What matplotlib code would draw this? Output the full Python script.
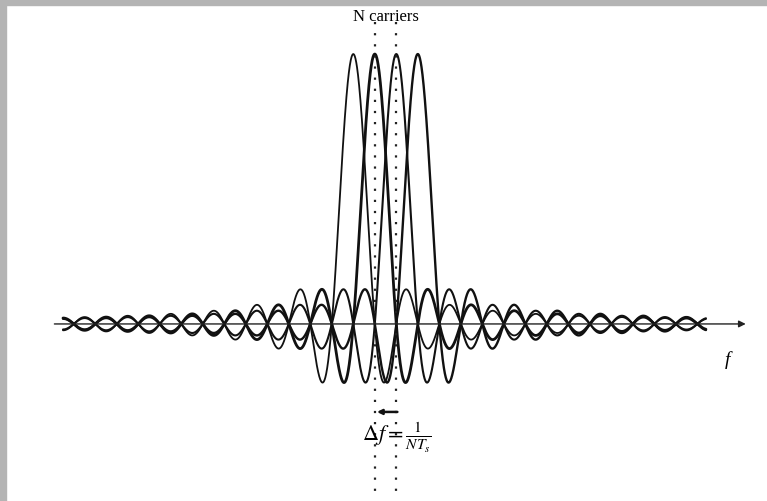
import numpy as np
import matplotlib.pyplot as plt
from matplotlib.patches import Rectangle

# subcarrier centres in units of the spacing Δf, and their peak heights
carrier_offsets = [-1.5, -0.5, 0.5, 1.5]
carrier_peaks = [1.0, 1.0, 1.0, 1.0]
# frequency span over which the spectra are drawn
f_start, f_stop = -15.0, 14.9

line_widths = [1.3, 2.0, 1.5, 1.7]

fig = plt.figure(figsize=(7.67, 5.02), dpi=100)
ax = fig.add_axes([0, 0, 1, 1])
ax.set_xlim(-17.93, 17.74)
ax.set_ylim(-0.656, 1.204)
ax.axis("off")

f = np.linspace(f_start, f_stop, 4000)
for fc, a, lw in zip(carrier_offsets, carrier_peaks, line_widths):
    ax.plot(f, a * np.sinc(f - fc), color="#111111", lw=lw, solid_capstyle="round")

# frequency axis with arrow
ax.annotate("", xy=(16.75, 0), xytext=(-15.4, 0),
            arrowprops=dict(arrowstyle="-|>", color="#222222", lw=1.0,
                            mutation_scale=10, shrinkA=0, shrinkB=0))
ax.text(15.9, -0.13, "f", fontsize=14, style="italic",
        family="Liberation Serif", ha="center", va="center")

# dotted markers on two neighbouring carriers
for fc in carrier_offsets[1:3]:
    ax.plot([fc, fc], [1.12, -0.63], color="#222222", lw=1.6,
            linestyle=(0, (1, 4)))

ax.text(0.0, 1.14, "N carriers", fontsize=12, family="Liberation Serif",
        ha="center", va="center")

ax.annotate("", xy=(-0.4, -0.326), xytext=(0.55, -0.326),
            arrowprops=dict(arrowstyle="-|>", color="#111111", lw=1.8,
                            mutation_scale=7, shrinkA=0, shrinkB=0))
ax.text(0.55, -0.42, r"$\Delta f = \frac{1}{NT_s}$", fontsize=16,
        ha="center", va="center", math_fontfamily="stix")

# grey frame along the top and left edges
fig.patches.append(Rectangle((0, 1 - 6 / 502), 1, 6 / 502, transform=fig.transFigure,
                             color="#b4b4b4", zorder=0))
fig.patches.append(Rectangle((0, 0), 6 / 767, 1, transform=fig.transFigure,
                             color="#b4b4b4", zorder=0))

fig.savefig("out.png", dpi=100)
